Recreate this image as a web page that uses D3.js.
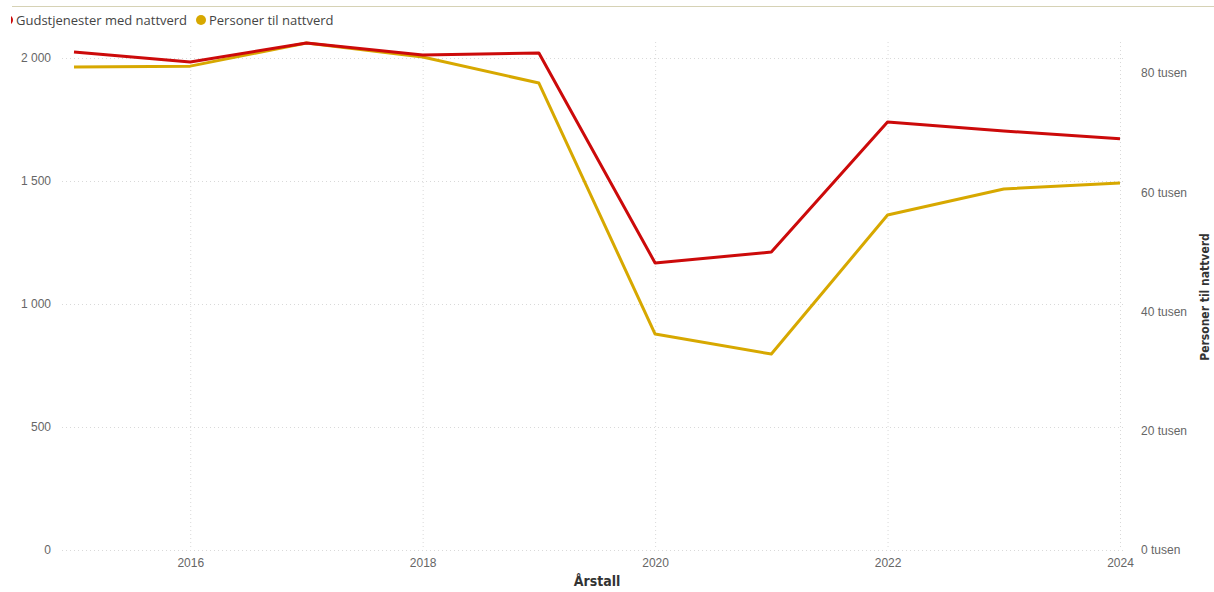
<!DOCTYPE html>
<html>
<head>
<meta charset="utf-8">
<script src="https://cdn.jsdelivr.net/npm/d3@7"></script>
<style>
  body { margin: 0; background: #fff; }
  svg { display: block; font-family: 'Open Sans', 'Noto Sans', sans-serif; }
  .grid line { stroke: #d9d9d9; stroke-dasharray: 1 3; }
  .tick text { fill: #666; font-size: 12px; }
</style>
</head>
<body>
<div id="chart"></div>
<script>
const years = [2015, 2016, 2017, 2018, 2019, 2020, 2021, 2022, 2023, 2024];
const gudstjenester = [2024, 1984, 2061, 2012, 2020, 1167, 1211, 1740, 1703, 1672];
const personer = [81000, 81150, 85030, 82680, 78320, 36220, 32870, 56180, 60550, 61550];
const xTicks = [2016, 2018, 2020, 2022, 2024];
const leftTicks = [0, 500, 1000, 1500, 2000];
const rightTicks = [0, 20000, 40000, 60000, 80000];

const width = 1214;
const height = 592;

const svg = d3.select('#chart').append('svg')
  .attr('width', width)
  .attr('height', height);

const x = d3.scaleLinear().domain([2015, 2024]).range([74, 1120]);
const yLeft = d3.scaleLinear().domain([0, 2000]).range([550, 58]);
const yRight = d3.scaleLinear().domain([0, 80000]).range([550, 73]);

// top border line
svg.append('line')
  .attr('x1', 12).attr('x2', width)
  .attr('y1', 6.5).attr('y2', 6.5)
  .attr('stroke', '#d6d2b5').attr('stroke-width', 1);

// grid
const grid = svg.append('g').attr('class', 'grid');
grid.selectAll('.h').data(leftTicks).enter().append('line')
  .attr('class', 'h')
  .attr('x1', 62).attr('x2', 1124)
  .attr('y1', d => yLeft(d) + 0.5).attr('y2', d => yLeft(d) + 0.5);
grid.selectAll('.v').data(xTicks).enter().append('line')
  .attr('class', 'v')
  .attr('x1', d => x(d) + 0.5).attr('x2', d => x(d) + 0.5)
  .attr('y1', 42).attr('y2', 550);

// axes
const fmtLeft = d => d3.format(',')(d).replace(',', '\u00a0');
svg.append('g')
  .attr('transform', 'translate(53,0)')
  .call(d3.axisLeft(yLeft).tickValues(leftTicks).tickSize(0).tickPadding(2).tickFormat(fmtLeft))
  .call(g => g.select('.domain').remove());

svg.append('g')
  .attr('transform', 'translate(1139,0)')
  .call(d3.axisRight(yRight).tickValues(rightTicks).tickSize(0).tickPadding(2).tickFormat(d => `${d / 1000} tusen`))
  .call(g => g.select('.domain').remove());

svg.append('g')
  .attr('transform', 'translate(0,556)')
  .call(d3.axisBottom(x).tickValues(xTicks).tickSize(0).tickPadding(2).tickFormat(d3.format('d')))
  .call(g => g.select('.domain').remove());

// axis titles
svg.append('text')
  .attr('x', 597).attr('y', 586)
  .attr('text-anchor', 'middle')
  .attr('style', "font-family: 'DejaVu Sans Condensed', 'DejaVu Sans', sans-serif; font-size: 14px; font-weight: 700; fill: #333")
  .text('Årstall');

svg.append('text')
  .attr('transform', 'translate(1209,297) rotate(-90)')
  .attr('text-anchor', 'middle')
  .attr('style', "font-family: 'DejaVu Sans Condensed', 'DejaVu Sans', sans-serif; font-size: 12px; font-weight: 700; fill: #333")
  .text('Personer til nattverd');

// lines
const lineLeft = d3.line().x((d, i) => x(years[i])).y(d => yLeft(d));
const lineRight = d3.line().x((d, i) => x(years[i])).y(d => yRight(d));

svg.append('path')
  .datum(personer)
  .attr('d', lineRight)
  .attr('fill', 'none')
  .attr('stroke', '#d7a800')
  .attr('stroke-width', 3)
  .attr('stroke-linejoin', 'round');

svg.append('path')
  .datum(gudstjenester)
  .attr('d', lineLeft)
  .attr('fill', 'none')
  .attr('stroke', '#cc0a0a')
  .attr('stroke-width', 3)
  .attr('stroke-linejoin', 'round');

// legend
const legend = svg.append('g').attr('class', 'legend');
legend.append('circle').attr('cx', 8).attr('cy', 20).attr('r', 5).attr('fill', '#cc0a0a');
legend.append('rect').attr('x', 0).attr('y', 12).attr('width', 11).attr('height', 16).attr('fill', '#fff');
legend.append('text')
  .attr('x', 16).attr('y', 25)
  .attr('style', 'font-size: 13px; fill: #444')
  .text('Gudstjenester med nattverd');
legend.append('circle').attr('cx', 201).attr('cy', 20).attr('r', 5).attr('fill', '#d7a800');
legend.append('text')
  .attr('x', 209).attr('y', 25)
  .attr('style', 'font-size: 13px; fill: #444')
  .text('Personer til nattverd');
</script>
</body>
</html>
